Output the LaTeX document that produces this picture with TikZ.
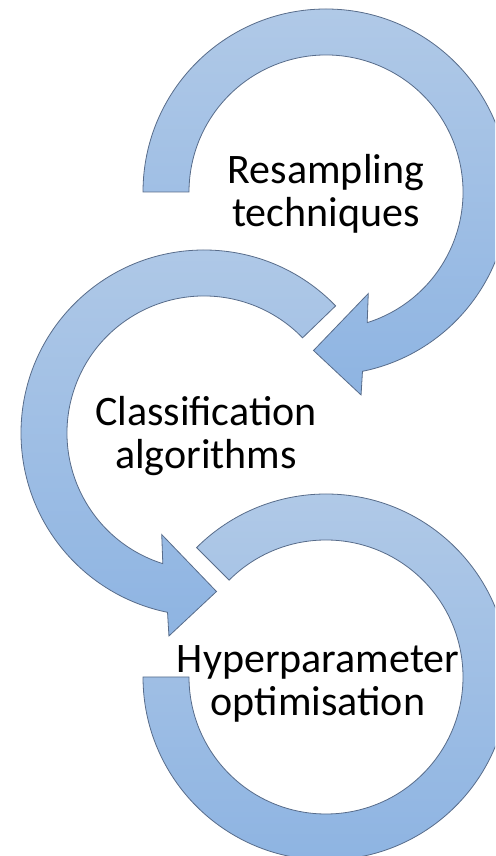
\documentclass[tikz,border=0pt]{standalone}
\usepackage{fontspec}
\setmainfont{Carlito}
\usetikzlibrary{calc}
\definecolor{bandtop}{RGB}{176,201,231}
\definecolor{bandbot}{RGB}{142,180,226}
\definecolor{bandline}{RGB}{88,108,138}
\begin{document}
\begin{tikzpicture}[x=1pt,y=1pt,
  band/.style={draw=bandline, line width=0.8pt, line join=miter,
    top color=bandtop, bottom color=bandbot},
  ringtext/.style={font=\fontsize{42}{43}\selectfont, align=center,
    text=black, inner sep=0pt}]
\useasboundingbox (0,0) rectangle (495,856);
\clip (0,0) rectangle (495,856);

% ring centres
\coordinate (c1) at (326,664);
\coordinate (c2) at (204,423);
\coordinate (c3) at (326,179);

% first ring: clockwise arrow from the left, head pointing down-left
\path[band] ($(c1)+(180:183)$)
  arc[start angle=180, end angle=-78.5, radius=183]
  -- ($(c1)+(-80.2:206)$)
  -- ($(c1)+(-94.5:159)$)
  -- ($(c1)+(-67.4:110)$)
  -- ($(c1)+(-72.5:137)$)
  arc[start angle=-72.5, end angle=180, radius=137]
  -- cycle;

% second ring: anticlockwise arrow, head pointing down-right
\path[band] ($(c2)+(44:183)$)
  arc[start angle=44, end angle=258.5, radius=183]
  -- ($(c2)+(260.2:206)$)
  -- ($(c2)+(274.5:159)$)
  -- ($(c2)+(247.4:110)$)
  -- ($(c2)+(252.5:137)$)
  arc[start angle=252.5, end angle=44, radius=137]
  -- cycle;

% third ring: open band with flat ends
\path[band] ($(c3)+(180:183)$)
  arc[start angle=180, end angle=495, radius=183]
  -- ($(c3)+(135:137)$)
  arc[start angle=495, end angle=180, radius=137]
  -- cycle;

% labels
\node[ringtext] (t1) at (326,662) {Resampling\\techniques};
\node[ringtext] (t2) at (206,420) {Classification\\algorithms};
\node[ringtext] (t3) at (318,172) {Hyperparameter\\optimisation};
\end{tikzpicture}
\end{document}
